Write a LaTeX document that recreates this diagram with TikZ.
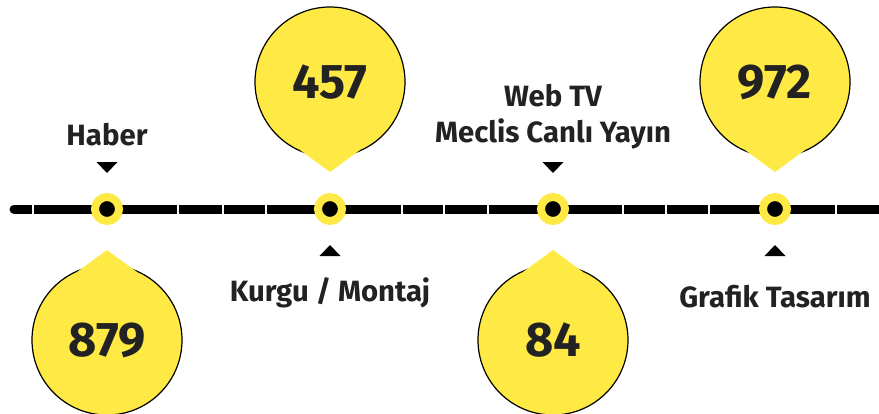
\documentclass[tikz,border=0pt]{standalone}
\usepackage{fontspec}
\setmainfont{Fira Sans}
\usepackage{xcolor}
\definecolor{csari}{RGB}{255,233,69}
\definecolor{cyazi}{RGB}{34,34,34}
\tikzset{
  isaret/.style={circle, fill=black, draw=csari, line width=6pt, minimum size=18pt, inner sep=0pt},
  etiket/.style={text=cyazi, font=\fontsize{22}{27}\selectfont\bfseries, align=center},
  rozet/.style={circle, fill=csari, draw=black, line width=0.9pt, minimum size=112.5pt, inner sep=0pt,
    text=cyazi, font=\fontsize{36.5}{40}\selectfont\bfseries}
}
\begin{document}
\begin{tikzpicture}[x=0.75pt, y=-0.75pt]
\useasboundingbox (0,0) rectangle (879,414);
% zaman cizgisi
\coordinate (bas) at (14,209); \coordinate (son) at (890,209);
\draw[line width=6.75pt, line cap=round] (bas) -- (son);
\foreach \g in {33,178,223,266,402,444,488,623,666,709,836}
  {\draw[white, line width=1.8pt] (\g,203) -- (\g,215);}
% noktalar ve oklar
\foreach \n/\x/\s in {m1/107/-1,m2/330/1,m3/553/-1,m4/775/1}
  {\node[isaret] (\n) at (\x,209) {};
   \fill ([shift={(-10.5,\s*47)}]\n.center) -- ([shift={(10.5,\s*47)}]\n.center)
     -- ([shift={(0,\s*36)}]\n.center) -- cycle;}
\node[etiket] (haber) at (107,135) {Haber};
\node[etiket] (webtv) at (553,117) {Web TV\\Meclis Canlı Yayın};
\node[etiket] (kurgu) at (330,293) {Kurgu / Montaj};
\node[etiket] (grafik) at (775,297) {Grafik Tasarım};
% rozetler
\foreach \n/\x/\y/\s/\t in {p1/107/340/-1/879,p2/330/82/1/457,p3/553/340/-1/84,p4/775/82/1/972}
  {\node[rozet] (\n) at (\x,\y) {\t};
   \fill[csari] ([shift={(-30,\s*68)}]\n.center) -- ([shift={(0,\s*90)}]\n.center)
     -- ([shift={(30,\s*68)}]\n.center) -- cycle;}
\end{tikzpicture}
\end{document}
